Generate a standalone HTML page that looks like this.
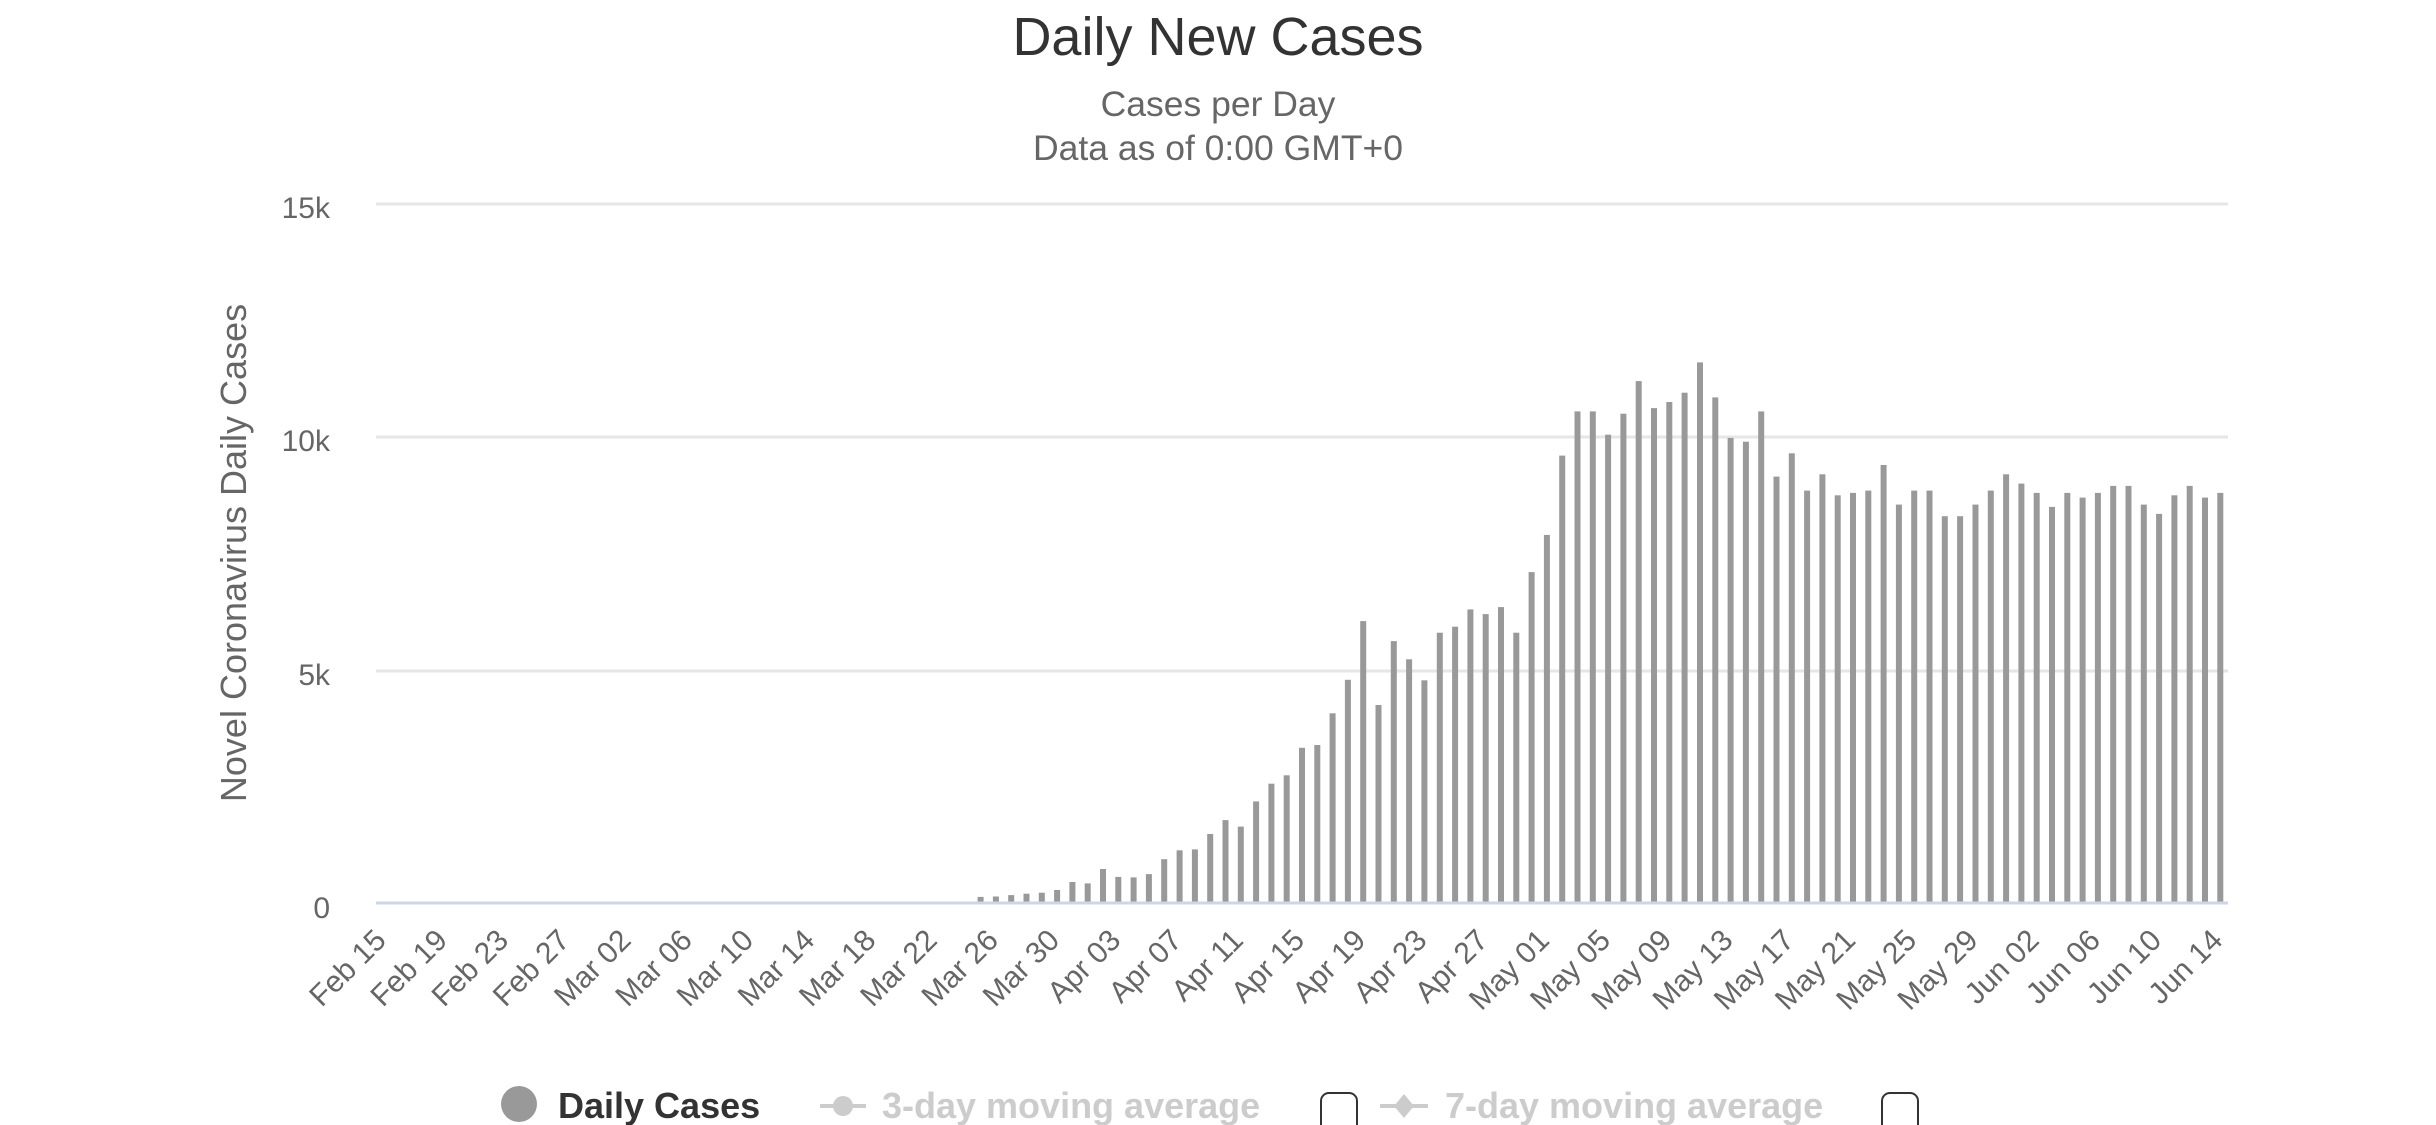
<!DOCTYPE html>
<html><head><meta charset="utf-8"><style>
html,body{margin:0;padding:0;background:#fff;width:2436px;height:1125px;overflow:hidden}
svg{display:block;font-family:"Liberation Sans",sans-serif}
</style></head><body>
<svg id="c" width="2436" height="1125" viewBox="0 0 2436 1125">
<text x="1218" y="55" text-anchor="middle" font-size="54" fill="#333">Daily New Cases</text>
<text x="1218" y="116" text-anchor="middle" font-size="35.5" fill="#666">Cases per Day</text>
<text x="1218" y="160" text-anchor="middle" font-size="35.5" fill="#666">Data as of 0:00 GMT+0</text>
<text transform="translate(246,553) rotate(-90)" text-anchor="middle" font-size="36" fill="#666">Novel Coronavirus Daily Cases</text>
<g stroke="#e6e6e6" stroke-width="3">
<line x1="376" x2="2228" y1="204" y2="204"/>
<line x1="376" x2="2228" y1="437" y2="437"/>
<line x1="376" x2="2228" y1="671" y2="671"/>
</g>
<g font-size="30" fill="#666" text-anchor="end">
<text x="330" y="218">15k</text>
<text x="330" y="451">10k</text>
<text x="330" y="685">5k</text>
<text x="330" y="918">0</text>
</g>
<g id="bars" fill="#999"></g>
<line x1="376" x2="2228" y1="903" y2="903" stroke="#ccd6eb" stroke-width="3"/>
<g id="labels" font-size="30" fill="#666" text-anchor="end"></g>
<circle cx="519" cy="1104" r="18" fill="#999"/>
<text x="558" y="1118" font-size="36" font-weight="bold" fill="#333">Daily Cases</text>
<line x1="820" x2="866" y1="1106" y2="1106" stroke="#ccc" stroke-width="4"/>
<circle cx="843" cy="1106" r="10" fill="#ccc"/>
<text x="882" y="1118" font-size="36" font-weight="bold" fill="#ccc">3-day moving average</text>
<rect x="1321" y="1093" width="36" height="40" rx="8" fill="#fff" stroke="#333" stroke-width="2"/>
<line x1="1380" x2="1428" y1="1106" y2="1106" stroke="#ccc" stroke-width="4"/>
<path d="M1404 1094 L1414 1106 L1404 1118 L1394 1106Z" fill="#ccc"/>
<text x="1445" y="1118" font-size="36" font-weight="bold" fill="#ccc">7-day moving average</text>
<rect x="1882" y="1093" width="36" height="40" rx="8" fill="#fff" stroke="#333" stroke-width="2"/>
</svg>
<script>
var vals=[130,140,170,200,220,280,450,420,730,560,550,620,940,1130,1150,1480,1780,1640,2180,2560,2740,3330,3390,4070,4790,6050,4250,5620,5230,4780,5800,5930,6300,6200,6350,5800,7100,7900,9600,10550,10550,10050,10500,11200,10620,10750,10950,11600,10850,9980,9900,10550,9150,9650,8850,9200,8750,8800,8850,9400,8550,8850,8850,8300,8300,8550,8850,9200,9000,8800,8500,8800,8700,8800,8950,8950,8550,8350,8750,8950,8700,8800];
var ns="http://www.w3.org/2000/svg",L=376,R=2228,N=121,w=(R-L)/N,y0=903,k=(903-204)/15000;
var g=document.getElementById('bars');
for(var i=0;i<vals.length;i++){var idx=39+i,cx=L+(idx+0.5)*w,h=vals[i]*k;
var r=document.createElementNS(ns,'rect');r.setAttribute('x',(cx-3).toFixed(1));r.setAttribute('width','6');
r.setAttribute('y',(y0-h).toFixed(1));r.setAttribute('height',h.toFixed(1));g.appendChild(r);}
var lg=document.getElementById('labels');
var d=new Date(Date.UTC(2020,1,15)),M=['Jan','Feb','Mar','Apr','May','Jun'];
for(var i=0;i<=120;i+=4){var dd=new Date(d.getTime()+i*86400000);
var s=M[dd.getUTCMonth()]+' '+('0'+dd.getUTCDate()).slice(-2);
var cx=L+(i+0.5)*w+4;var t=document.createElementNS(ns,'text');
t.setAttribute('transform','translate('+cx.toFixed(1)+',942) rotate(-45)');t.textContent=s;lg.appendChild(t);}
</script>
</body></html>
